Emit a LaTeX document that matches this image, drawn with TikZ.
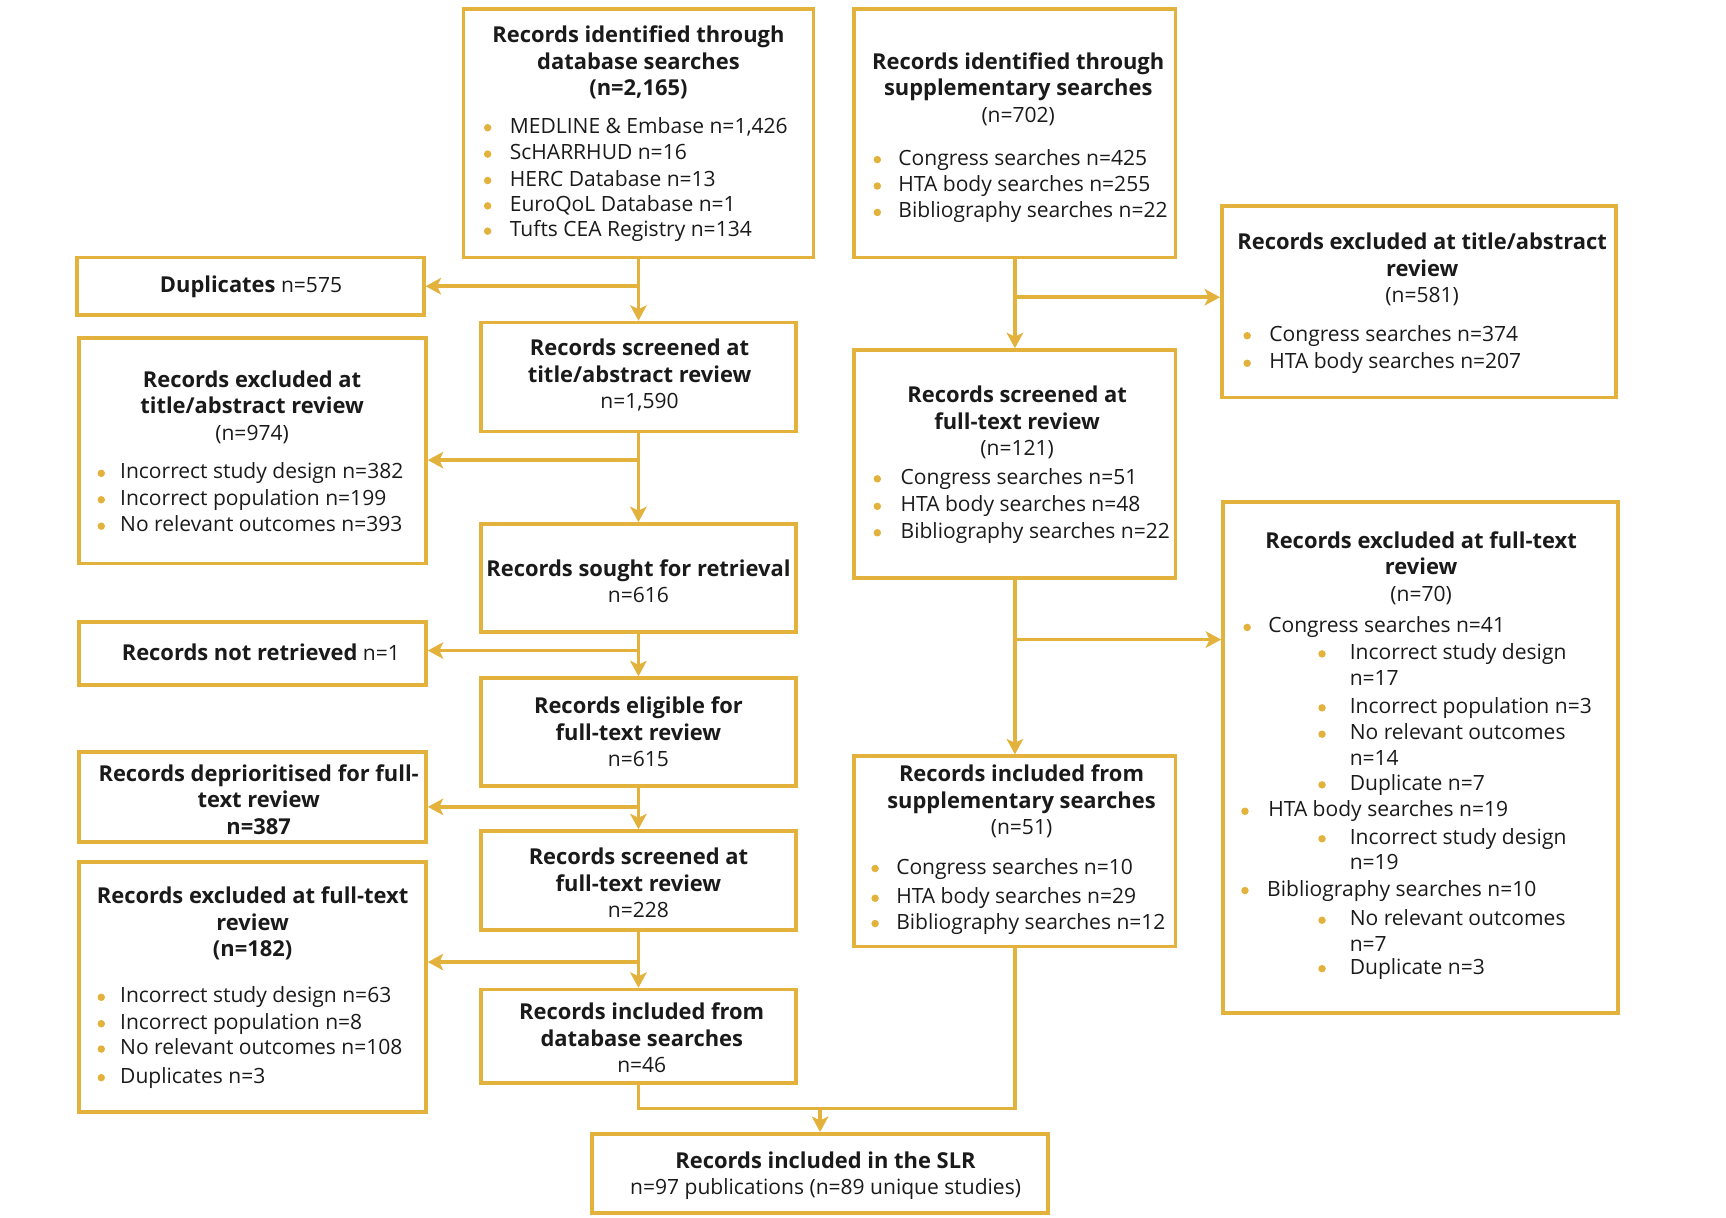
\documentclass[tikz,border=0pt]{standalone}
\usepackage{fontspec}
\setmainfont{Open Sans}
\usetikzlibrary{arrows.meta}
\definecolor{gold}{HTML}{E3B23C}
\definecolor{ink}{HTML}{1A1A1A}
\newcommand{\tb}[1]{{\fontsize{19.9}{24}\selectfont\bfseries #1}}
\newcommand{\bitem}[5]{\fill[gold] (#2,#4+1) circle (3.4);\node[litem] (#1) at (#3,#4) {#5};}
\newcommand{\litxt}[4]{\node[litem] (#1) at (#2,#3) {#4};}
\newcommand{\mkbox}[5]{\node[rbox, minimum width=#4pt, minimum height=#5pt] (#1) at (#2,#3) {};}
\begin{document}
\begin{tikzpicture}[x=1pt,y=-1pt,
  font=\fontsize{19.1}{24}\selectfont,
  rbox/.style={draw=gold, line width=3.3pt, inner sep=0pt},
  litem/.style={anchor=west, inner sep=0pt, text height=13pt, text depth=1pt, text=ink},
  ttl/.style={align=center, inner sep=0pt, text=ink},
  ln/.style={draw=gold, line width=3.3pt},
  arr/.style={draw=gold, line width=3.3pt, -{Stealth[length=14pt,width=15pt,inset=3.5pt]}}]
\useasboundingbox (0,0) rectangle (1568,1106);

% boxes
\mkbox{dbid}{580}{121}{318}{226}
\mkbox{supid}{922}{121}{292}{226}
\mkbox{dup}{227.5}{260}{315}{52}
\mkbox{scrTA}{580}{342.5}{286}{99}
\mkbox{exTA}{229.5}{409.5}{315}{205}
\mkbox{sought}{580}{525}{286}{98}
\mkbox{notret}{229.5}{593.5}{315}{57}
\mkbox{elig}{580}{665}{286}{98}
\mkbox{deprio}{229.5}{724}{315}{82}
\mkbox{scrFT}{580}{800}{286}{90}
\mkbox{exFT}{229.5}{896.5}{315}{227}
\mkbox{incDB}{580}{941.5}{286}{85}
\mkbox{slr}{745}{1066}{414}{72}
\mkbox{exTAs}{1289}{274}{358}{174}
\mkbox{scrFTs}{922}{421.5}{292}{207}
\mkbox{exFTs}{1290.5}{688}{359}{464}
\mkbox{incS}{922}{773.5}{292}{173}

% titles
\node[ttl] (t-dbid) at (580,57) {\tb{Records identified through}\\\tb{database searches}\\\tb{(n=2,165)}};
\node[ttl] (t-supid) at (925,81) {\tb{Records identified through}\\\tb{supplementary searches}\\(n=702)};
\node[ttl] (t-dup) at (228,261) {\tb{Duplicates} n=575};
\node[ttl] (t-scrTA) at (581,341) {\tb{Records screened at}\\\tb{title/abstract review}\\n=1,590};
\node[ttl] (t-exTA) at (229,370) {\tb{Records excluded at}\\\tb{title/abstract review}\\(n=974)};
\node[ttl] (t-sought) at (580,528) {\tb{Records sought for retrieval}\\n=616};
\node[ttl] (t-notret) at (237,593) {\tb{Records not retrieved} n=1};
\node[ttl] (t-elig) at (580,665) {\tb{Records eligible for}\\\tb{full-text review}\\n=615};
\node[ttl] (t-deprio) at (235,726.5) {\tb{Records deprioritised for full-}\\\tb{text review}\\\tb{n=387}};
\node[ttl] (t-scrFT) at (580,802) {\tb{Records screened at}\\\tb{full-text review}\\n=228};
\node[ttl] (t-exFT) at (229.5,839) {\tb{Records excluded at full-text}\\\tb{review}\\\tb{(n=182)}};
\node[ttl] (t-incDB) at (583,943) {\tb{Records included from}\\\tb{database searches}\\n=46};
\node[ttl] (t-slr) at (750,1068) {\tb{Records included in the SLR}\\n=97 publications (n=89 unique studies)};
\node[ttl] (t-exTAs) at (1292,245) {\tb{Records excluded at title/abstract}\\\tb{review}\\(n=581)};
\node[ttl] (t-scrFTs) at (924,384) {\tb{Records screened at}\\\tb{full-text review}\\(n=121)};
\node[ttl] (t-exFTs) at (1291,516) {\tb{Records excluded at full-text}\\\tb{review}\\(n=70)};
\node[ttl] (t-incS) at (928,728) {\tb{Records included from}\\\tb{supplementary searches}\\(n=51)};

% bullet lists
\bitem{a1}{443}{463}{115}{MEDLINE \& Embase n=1,426}
\bitem{a2}{443}{463}{139}{ScHARRHUD n=16}
\bitem{a3}{443}{463}{163}{HERC Database n=13}
\bitem{a4}{443}{463}{186}{EuroQoL Database n=1}
\bitem{a5}{443}{463}{209}{Tufts CEA Registry n=134}

\bitem{b1}{797}{816}{144}{Congress searches n=425}
\bitem{b2}{797}{816}{168}{HTA body searches n=255}
\bitem{b3}{797}{816}{192}{Bibliography searches n=22}

\bitem{c1}{92}{109}{429}{Incorrect study design n=382}
\bitem{c2}{92}{109}{453}{Incorrect population n=199}
\bitem{c3}{92}{109}{477}{No relevant outcomes n=393}

\bitem{d1}{92}{109}{905}{Incorrect study design n=63}
\bitem{d2}{92}{109}{929}{Incorrect population n=8}
\bitem{d3}{92}{109}{952}{No relevant outcomes n=108}
\bitem{d4}{92}{109}{978}{Duplicates n=3}

\bitem{e1}{1133}{1153}{304}{Congress searches n=374}
\bitem{e2}{1133}{1153}{329}{HTA body searches n=207}

\bitem{f1}{797}{818}{434}{Congress searches n=51}
\bitem{f2}{797}{818}{459}{HTA body searches n=48}
\bitem{f3}{797}{818}{483}{Bibliography searches n=22}

\bitem{g1}{795}{814}{788}{Congress searches n=10}
\bitem{g2}{795}{814}{815}{HTA body searches n=29}
\bitem{g3}{795}{814}{838}{Bibliography searches n=12}

\bitem{h1}{1133}{1152}{569}{Congress searches n=41}
\bitem{h2}{1201}{1226}{593}{Incorrect study design}
\litxt{h2b}{1226}{617}{n=17}
\bitem{h3}{1201}{1226}{642}{Incorrect population n=3}
\bitem{h4}{1201}{1226}{666}{No relevant outcomes}
\litxt{h4b}{1226}{689}{n=14}
\bitem{h5}{1201}{1226}{712}{Duplicate n=7}
\bitem{h6}{1131}{1152}{736}{HTA body searches n=19}
\bitem{h7}{1201}{1226}{761}{Incorrect study design}
\litxt{h7b}{1226}{784}{n=19}
\bitem{h8}{1131}{1151}{808}{Bibliography searches n=10}
\bitem{h9}{1201}{1226}{835}{No relevant outcomes}
\litxt{h9b}{1226}{858}{n=7}
\bitem{h10}{1201}{1226}{879}{Duplicate n=3}

% branch points
\coordinate (p1) at (580,260);
\coordinate (p2) at (580,418);
\coordinate (p3) at (580,591);
\coordinate (p4) at (580,733);
\coordinate (p5) at (580,874);
\coordinate (q1) at (922,270);
\coordinate (q2) at (922,581);
\coordinate (m) at (745,1007);

% connectors
\draw[arr] (dbid.south) -- (scrTA.north);
\draw[arr] (p1) -- (p1 -| dup.east);
\draw[arr] (scrTA.south) -- (sought.north);
\draw[arr] (p2) -- (p2 -| exTA.east);
\draw[arr] (sought.south) -- (elig.north);
\draw[arr] (p3) -- (p3 -| notret.east);
\draw[arr] (elig.south) -- (scrFT.north);
\draw[arr] (p4) -- (p4 -| deprio.east);
\draw[arr] (scrFT.south) -- (incDB.north);
\draw[arr] (p5) -- (p5 -| exFT.east);
\draw[arr] (supid.south) -- (scrFTs.north);
\draw[arr] (q1) -- (q1 -| exTAs.west);
\draw[arr] (scrFTs.south) -- (incS.north);
\draw[arr] (q2) -- (q2 -| exFTs.west);
\draw[ln] (incDB.south) |- (m) -| (incS.south);
\draw[arr] (m) -- (slr.north);
\end{tikzpicture}
\end{document}
